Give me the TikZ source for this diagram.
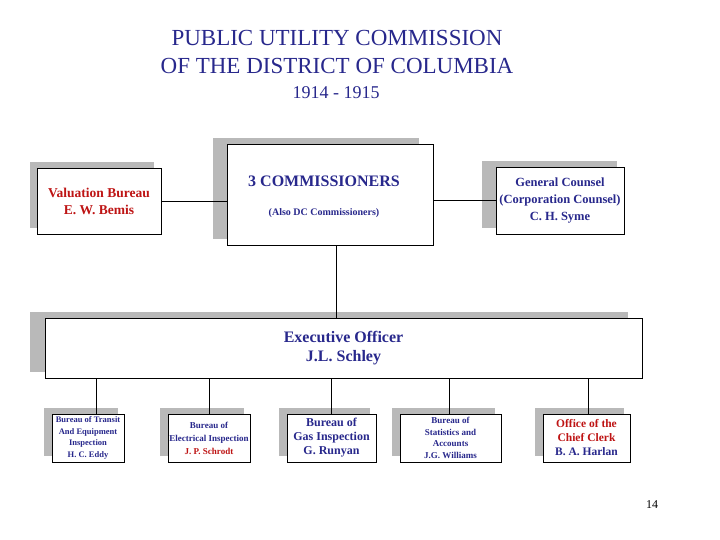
\documentclass[tikz,border=0pt]{standalone}
\usepackage{fontspec}
\setmainfont{Liberation Serif}
\definecolor{navy}{RGB}{40,40,140}
\definecolor{dred}{RGB}{190,20,20}
\definecolor{shad}{RGB}{185,185,185}
\begin{document}
\begin{tikzpicture}[x=1pt,y=-1pt,
  box/.style={draw=black,fill=white,line width=0.8pt,align=center,inner sep=1pt,text=navy},
  ln/.style={line width=0.8pt}]
\useasboundingbox (0,0) rectangle (720,540);
\node[text=navy,font=\fontsize{23}{28}\selectfont,align=center] (t1) at (337,52) {PUBLIC UTILITY COMMISSION\\OF THE DISTRICT OF COLUMBIA};
\node[text=navy,font=\fontsize{18}{20}\selectfont] (t2) at (336,93) {1914 - 1915};
\node[font=\fontsize{12}{14}\selectfont] (pg) at (652,505) {14};
% shadows
\fill[shad] (213,138) rectangle (419,239);
\fill[shad] (30,162) rectangle (154,228);
\fill[shad] (482,161) rectangle (617,228);
\fill[shad] (30,312) rectangle (628,372);
\foreach \a/\b in {52/124,168/250,287/376,400/501,543/630}
  \fill[shad] (\a-8,408) rectangle (\b-6,456);
% boxes
\node[box,minimum width=206,minimum height=101] (com) at (330,194.5) {};
\node[text=navy,font=\bfseries\fontsize{16}{18}\selectfont] (ct) at (324,181) {3 COMMISSIONERS};
\node[text=navy,font=\bfseries\fontsize{10}{12}\selectfont] (cs) at (324,213) {(Also DC Commissioners)};
\node[box,minimum width=124,minimum height=66,text=dred,font=\bfseries\fontsize{13.5}{17}\selectfont] (val) at (99,201) {Valuation Bureau\\E. W. Bemis};
\node[box,minimum width=128,minimum height=67,inner sep=0pt,font=\bfseries\fontsize{12.5}{17}\selectfont] (gc) at (560,200.5) {General Counsel\\(Corporation Counsel)\\C. H. Syme};
\node[box,minimum width=597,minimum height=60,font=\bfseries\fontsize{16}{19}\selectfont] (ex) at (343.5,348) {Executive Officer\\J.L. Schley};
\node[box,minimum width=72,minimum height=48,font=\bfseries\fontsize{8.5}{11.5}\selectfont] (b1) at (88,438) {Bureau of Transit\\And Equipment\\Inspection\\H. C. Eddy};
\node[box,minimum width=82,minimum height=48,font=\bfseries\fontsize{9}{13}\selectfont] (b2) at (209,438) {Bureau of\\Electrical Inspection\\\textcolor{dred}{J. P. Schrodt}};
\node[box,minimum width=89,minimum height=48,font=\bfseries\fontsize{12}{14}\selectfont] (b3) at (331.5,438) {Bureau of\\Gas Inspection\\G. Runyan};
\node[box,minimum width=101,minimum height=48,font=\bfseries\fontsize{9}{11.5}\selectfont] (b4) at (450.5,438) {Bureau of\\Statistics and\\Accounts\\J.G. Williams};
\node[box,minimum width=87,minimum height=48,font=\bfseries\fontsize{11.5}{14}\selectfont] (b5) at (586.5,438) {\textcolor{dred}{Office of the}\\\textcolor{dred}{Chief Clerk}\\B. A. Harlan};
% connectors
\draw[ln] (val.east) -- (com.west |- val.east);
\draw[ln] (com.east |- gc.west) -- (gc.west);
\draw[ln] (com.south -| 336,0) -- (ex.north -| 336,0);
\foreach \x/\n in {96/b1,209/b2,331/b3,449/b4,588/b5}
  \draw[ln] (ex.south -| \x,0) -- (\n.north -| \x,0);
\end{tikzpicture}
\end{document}
